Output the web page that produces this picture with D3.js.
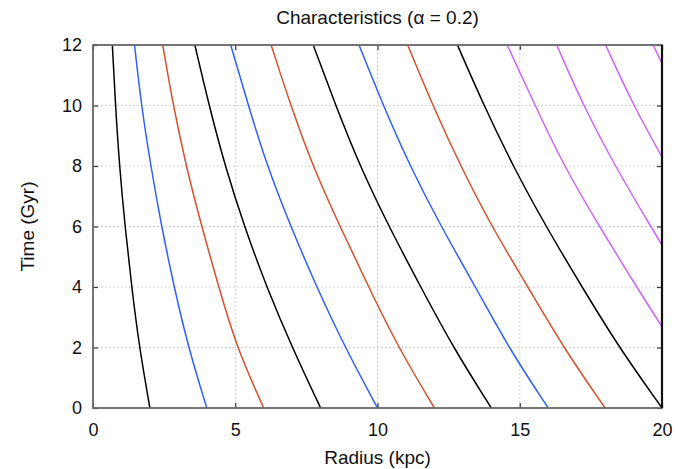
<!DOCTYPE html>
<html>
<head>
<meta charset="utf-8">
<script src="https://cdn.jsdelivr.net/npm/d3@7"></script>
<style>
  body { margin: 0; background: #fff; }
  text { font-family: "Liberation Sans", Arial, Helvetica, sans-serif; fill: #111; }
</style>
</head>
<body>
<svg id="chart" width="678" height="469"></svg>
<script>
// Sample times (Gyr) at which each characteristic's radius is tabulated
const times = [0, 2, 4, 6, 8, 10, 12];

// Radius (kpc) of each characteristic at the sample times, labelled by starting radius
const r02 = [2.0, 1.63, 1.36, 1.125, 0.93, 0.79, 0.68];
const r04 = [4.0, 3.35, 2.85, 2.41, 2.03, 1.70, 1.46];
const r06 = [6.0, 5.05, 4.42, 3.82, 3.27, 2.82, 2.45];
const r08 = [8.0, 7.0, 6.1, 5.32, 4.64, 4.08, 3.58];
const r10 = [10.0, 8.86, 7.86, 6.95, 6.12, 5.46, 4.84];
const r12 = [12.0, 10.73, 9.69, 8.68, 7.72, 6.95, 6.26];
const r14 = [14.0, 12.66, 11.52, 10.4, 9.38, 8.53, 7.74];
const r16 = [16.0, 14.6, 13.45, 12.23, 11.14, 10.2, 9.35];
const r18 = [18.0, 16.53, 15.29, 14.01, 12.92, 11.94, 11.06];
const r20 = [20.0, 18.49, 17.19, 15.92, 14.76, 13.74, 12.81];
const r22 = [22.0, 20.45, 19.11, 17.80, 16.55, 15.54, 14.56];
const r24 = [24.0, 22.35, 20.9, 19.6, 18.35, 17.23, 16.30];
const r26 = [26.0, 24.3, 22.8, 21.4, 20.17, 18.99, 18.02];
const r28 = [28.0, 26.2, 24.6, 23.1, 21.8, 20.7, 19.69];

const seriesList = [r02, r04, r06, r08, r10, r12, r14, r16, r18, r20, r22, r24, r26, r28];
const seriesColors = ["#000000", "#2f5fff", "#d8502c", "#000000", "#2f5fff", "#d8502c",
                      "#000000", "#2f5fff", "#d8502c", "#000000",
                      "#cc66ff", "#cc66ff", "#cc66ff", "#cc66ff"];

const radiusTicks = [0, 5, 10, 15, 20];
const timeTicks = [0, 2, 4, 6, 8, 10, 12];

const svg = d3.select("#chart");
const W = 678, H = 469;
const margin = { top: 45, right: 16, bottom: 61, left: 93 };
const iw = W - margin.left - margin.right;
const ih = H - margin.top - margin.bottom;

const x = d3.scaleLinear().domain([0, 20]).range([0, iw]);
const y = d3.scaleLinear().domain([0, 12]).range([ih, 0]);

svg.append("rect").attr("width", W).attr("height", H).attr("fill", "#fff");

const g = svg.append("g").attr("transform", `translate(${margin.left},${margin.top})`);

svg.append("defs").append("clipPath").attr("id", "plotClip")
  .append("rect").attr("x", 0).attr("y", 0).attr("width", iw).attr("height", ih);

// dotted grid
const grid = g.append("g").attr("stroke", "#c4c4c4").attr("stroke-width", 1)
  .attr("stroke-dasharray", "1.5,2.5");
grid.selectAll(".gx").data(radiusTicks.filter(v => v > 0 && v < 20)).join("line")
  .attr("x1", d => x(d)).attr("x2", d => x(d)).attr("y1", 0).attr("y2", ih);
grid.selectAll(".gy").data(timeTicks.filter(v => v > 0 && v < 12)).join("line")
  .attr("y1", d => y(d)).attr("y2", d => y(d)).attr("x1", 0).attr("x2", iw);

// characteristic curves (smoothed B-spline through the tabulated radii)
const line = d3.line()
  .x(d => x(d[1]))
  .y(d => y(d[0]))
  .curve(d3.curveBasis);

g.append("g").attr("clip-path", "url(#plotClip)")
  .selectAll("path").data(seriesList).join("path")
  .attr("d", radii => line(times.map((t, i) => [t, radii[i]])))
  .attr("fill", "none")
  .attr("stroke", (d, i) => seriesColors[i])
  .attr("stroke-width", 1.5);

// axes with inward ticks on all four sides
const tickLen = 5;
const axB = g.append("g").attr("transform", `translate(0,${ih})`)
  .call(d3.axisBottom(x).tickValues(radiusTicks).tickSize(-tickLen).tickPadding(15).tickFormat(d3.format("d")));
const axT = g.append("g")
  .call(d3.axisTop(x).tickValues(radiusTicks).tickSize(-tickLen).tickFormat(""));
const axL = g.append("g")
  .call(d3.axisLeft(y).tickValues(timeTicks).tickSize(-tickLen).tickPadding(11).tickFormat(d3.format("d")));
const axR = g.append("g").attr("transform", `translate(${iw},0)`)
  .call(d3.axisRight(y).tickValues(timeTicks).tickSize(-tickLen).tickFormat(""));

[axB, axT, axL, axR].forEach(a => {
  a.select(".domain").remove();
  a.selectAll(".tick line").attr("stroke", "#333").attr("stroke-width", 1.2);
  a.selectAll(".tick text").style("font-size", "18px").attr("fill", "#111");
});

// frame
g.append("rect").attr("x", 0).attr("y", 0).attr("width", iw).attr("height", ih)
  .attr("fill", "none").attr("stroke", "#666").attr("stroke-width", 1.8);
g.append("line").attr("x1", iw).attr("x2", iw).attr("y1", 0).attr("y2", ih)
  .attr("stroke", "#111").attr("stroke-width", 2.2);

// titles
svg.append("text").attr("x", margin.left + iw / 2).attr("y", 24)
  .attr("text-anchor", "middle").style("font-size", "19px")
  .text("Characteristics (α = 0.2)");
svg.append("text").attr("x", margin.left + iw / 2).attr("y", 464)
  .attr("text-anchor", "middle").style("font-size", "19px")
  .text("Radius (kpc)");
svg.append("text")
  .attr("transform", `translate(34,${margin.top + ih / 2}) rotate(-90)`)
  .attr("text-anchor", "middle").style("font-size", "19px")
  .text("Time (Gyr)");
</script>
</body>
</html>
